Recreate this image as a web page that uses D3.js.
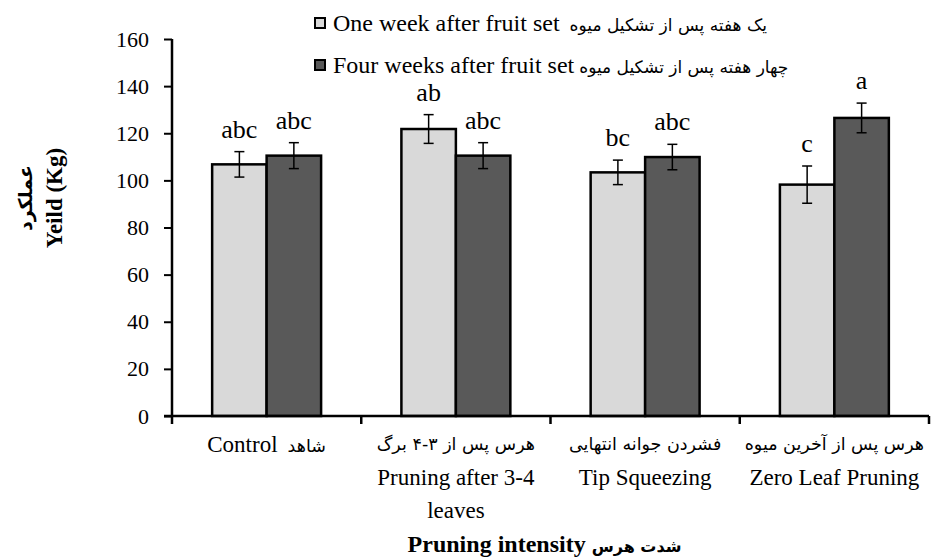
<!DOCTYPE html>
<html>
<head>
<meta charset="utf-8">
<script src="https://cdn.jsdelivr.net/npm/d3@7"></script>
<style>
  html, body { margin: 0; padding: 0; background: #fff; }
  svg { display: block; }
</style>
</head>
<body>
<svg id="chart" width="931" height="557"></svg>
<script>
// ---------------- data ----------------
const categoriesEn = ["Control", "Pruning after 3-4 leaves", "Tip Squeezing", "Zero Leaf Pruning"];
const categoriesFa = ["شاهد", "هرس پس از ۳-۴ برگ", "فشردن جوانه انتهایی", "هرس پس از آخرین میوه"];
const seriesEn = ["One week after fruit set", "Four weeks after fruit set"];
const seriesFa = ["یک هفته پس از تشکیل میوه", "چهار هفته پس از تشکیل میوه"];
const oneWeek = [106.8, 121.8, 103.4, 98.2];
const fourWeeks = [110.5, 110.5, 109.9, 126.5];
const oneWeekErr = [5.4, 6.1, 5.2, 7.9];
const fourWeeksErr = [5.5, 5.5, 5.4, 6.3];
const oneWeekLetters = ["abc", "ab", "bc", "c"];
const fourWeeksLetters = ["abc", "abc", "abc", "a"];
const yTicks = [0, 20, 40, 60, 80, 100, 120, 140, 160];
const yTitleEn = "Yeild (Kg)";
const yTitleFa = "عملکرد";
const xTitleEn = "Pruning intensity";
const xTitleFa = "شدت هرس";

// ---------------- styles ----------------
const SERIF = "'Liberation Serif', 'Times New Roman', serif";
const ARAB = "'DejaVu Sans', sans-serif";
const colors = ["#d9d9d9", "#595959"];

const svg = d3.select("#chart");
const pLeft = 172, pRight = 929, pTop = 39, pBottom = 416;

const x0 = d3.scaleBand().domain(d3.range(categoriesEn.length)).range([pLeft, pRight]).paddingInner(0).paddingOuter(0);
const x1 = d3.scaleBand().domain([0, 1]).range([0, x0.bandwidth()]).paddingInner(0).paddingOuter(0.737);
const y = d3.scaleLinear().domain([0, 160]).range([pBottom, pTop]);

const series = [
  { vals: oneWeek, err: oneWeekErr, letters: oneWeekLetters },
  { vals: fourWeeks, err: fourWeeksErr, letters: fourWeeksLetters }
];

// bars
series.forEach((s, si) => {
  const g = svg.append("g");
  const xs = i => x0(i) + x1(si);
  g.selectAll("rect").data(s.vals).join("rect")
    .attr("x", (d, i) => xs(i))
    .attr("y", d => y(d))
    .attr("width", x1.bandwidth())
    .attr("height", d => y(0) - y(d))
    .attr("fill", colors[si])
    .attr("stroke", "#000")
    .attr("stroke-width", 2.5);
  const cx = i => xs(i) + x1.bandwidth() / 2;
  const eg = svg.append("g").attr("stroke", "#000").attr("stroke-width", 1.5);
  s.vals.forEach((v, i) => {
    const e = s.err[i];
    eg.append("line").attr("x1", cx(i)).attr("x2", cx(i)).attr("y1", y(v - e)).attr("y2", y(v + e));
    eg.append("line").attr("x1", cx(i) - 5).attr("x2", cx(i) + 5).attr("y1", y(v - e)).attr("y2", y(v - e));
    eg.append("line").attr("x1", cx(i) - 5).attr("x2", cx(i) + 5).attr("y1", y(v + e)).attr("y2", y(v + e));
    svg.append("text")
      .attr("x", cx(i)).attr("y", y(v + e) - 14)
      .attr("text-anchor", "middle")
      .attr("font-family", SERIF).attr("font-size", 26)
      .text(s.letters[i]);
  });
});

// y axis
const yAxis = svg.append("g").attr("transform", `translate(${pLeft},0)`)
  .call(d3.axisLeft(y).tickValues(yTicks).tickSize(8).tickPadding(15));
yAxis.select(".domain").attr("d", `M0,${pTop}V${pBottom}`).attr("stroke", "#000").attr("stroke-width", 2.5);
yAxis.selectAll(".tick line").attr("stroke", "#000").attr("stroke-width", 2);
yAxis.selectAll(".tick text").attr("font-family", SERIF).attr("font-size", 22).attr("fill", "#000");

// x axis
const xAxis = svg.append("g").attr("transform", `translate(0,${pBottom})`)
  .call(d3.axisBottom(x0).tickSize(0).tickFormat(""));
xAxis.select(".domain").attr("d", `M${pLeft - 8},0H${pRight}`).attr("stroke", "#000").attr("stroke-width", 2.5);
const bounds = x0.domain().map(i => x0(i)).concat([pRight]);
xAxis.selectAll(".bound").data(bounds).join("line").attr("class", "bound")
  .attr("x1", d => d).attr("x2", d => d).attr("y1", 0).attr("y2", 8)
  .attr("stroke", "#000").attr("stroke-width", 2.5);

// helper: english run followed by persian run on one visual line
function mixed(parent, xStart, yBase, en, fa, enSize, faSize, bold, gap, faBold) {
  const t1 = parent.append("text").attr("x", xStart).attr("y", yBase)
    .attr("font-family", SERIF).attr("font-size", enSize)
    .attr("font-weight", bold ? "bold" : "normal").text(en);
  const w1 = t1.node().getComputedTextLength();
  const t2 = parent.append("text").attr("x", xStart + w1 + gap).attr("y", yBase)
    .attr("font-family", ARAB).attr("font-size", faSize)
    .attr("font-weight", faBold ? "bold" : "normal").text(fa);
  const w2 = t2.node().getComputedTextLength();
  return { t1, t2, width: w1 + gap + w2 };
}
function measureMixed(parent, en, fa, enSize, faSize, bold, gap, faBold) {
  const m = mixed(parent, 0, -200, en, fa, enSize, faSize, bold, gap, faBold);
  m.t1.remove(); m.t2.remove();
  return m.width;
}

// category labels
const labG = svg.append("g");
const catSize = 23, faCatSize = 17.5;
categoriesEn.forEach((en, i) => {
  const cx = x0(i) + x0.bandwidth() / 2;
  const maxW = x0.bandwidth() - 10;
  const total = measureMixed(labG, en, categoriesFa[i], catSize, faCatSize, false, 10, false);
  if (total <= maxW * 0.75) {
    mixed(labG, cx - total / 2, 452, en, categoriesFa[i], catSize, faCatSize, false, 10, false);
  } else {
    labG.append("text").attr("x", cx).attr("y", 450).attr("text-anchor", "middle")
      .attr("font-family", ARAB).attr("font-size", faCatSize).text(categoriesFa[i]);
    const words = en.split(" ");
    const lines = [];
    let cur = "";
    const meas = labG.append("text").attr("font-family", SERIF).attr("font-size", catSize).attr("y", -100);
    words.forEach(w => {
      const test = cur ? cur + " " + w : w;
      meas.text(test);
      if (meas.node().getComputedTextLength() > maxW && cur) { lines.push(cur); cur = w; }
      else cur = test;
    });
    lines.push(cur);
    meas.remove();
    lines.forEach((ln, li) => {
      labG.append("text").attr("x", cx).attr("y", 485 + li * 33).attr("text-anchor", "middle")
        .attr("font-family", SERIF).attr("font-size", catSize).text(ln);
    });
  }
});

// x title
const xtw = measureMixed(svg, xTitleEn, xTitleFa, 24, 16, true, 6, true);
mixed(svg, (pLeft + pRight) / 2 - 6 - xtw / 2, 552, xTitleEn, xTitleFa, 24, 16, true, 6, true);

// y title
const ytg = svg.append("g").attr("transform", "translate(0,198) rotate(-90)");
ytg.append("text").attr("x", 0).attr("y", 62).attr("text-anchor", "middle")
  .attr("font-family", SERIF).attr("font-size", 23).attr("font-weight", "bold").text(yTitleEn);
ytg.append("text").attr("x", 0).attr("y", 32).attr("text-anchor", "middle")
  .attr("font-family", ARAB).attr("font-size", 19).attr("font-weight", "bold").text(yTitleFa);

// legend
const lg = svg.append("g");
const legY = [31, 73];
series.forEach((s, si) => {
  lg.append("rect").attr("x", 315).attr("y", legY[si] - 13).attr("width", 10).attr("height", 10)
    .attr("fill", colors[si]).attr("stroke", "#000").attr("stroke-width", 2);
  mixed(lg, 333, legY[si], seriesEn[si], seriesFa[si], 24, 17, false, si === 0 ? 10 : 5, false);
});
</script>
</body>
</html>
